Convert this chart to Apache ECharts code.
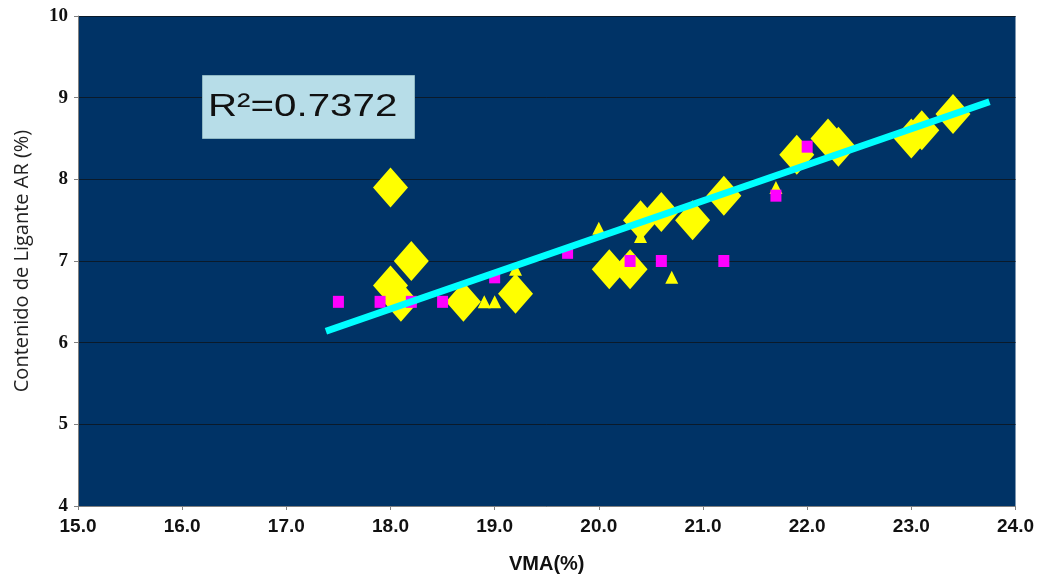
<!DOCTYPE html>
<html>
<head>
<meta charset="utf-8">
<script src="https://cdn.jsdelivr.net/npm/echarts@6/dist/echarts.min.js"></script>
<style>
html,body{margin:0;padding:0;background:#fff;}
#chart{width:1037px;height:579px;}
</style>
</head>
<body>
<div id="chart"></div>
<script>
// Large yellow diamonds
const diamondX = [18.0, 18.0, 18.2, 18.1, 18.7, 19.2, 20.1, 20.3, 20.4, 20.6, 20.9, 21.2, 21.9, 22.2, 22.3, 23.0, 23.1, 23.4];
const diamondY = [7.9, 6.7, 7.0, 6.5, 6.5, 6.6, 6.9, 6.9, 7.5, 7.6, 7.5, 7.8, 8.3, 8.5, 8.4, 8.5, 8.6, 8.8];
// Small yellow triangles
const triX = [18.9, 19.0, 19.2, 20.0, 20.4, 20.7, 21.7];
const triY = [6.5, 6.5, 6.9, 7.4, 7.3, 6.8, 7.9];
// Magenta squares
const sqX = [17.5, 17.9, 18.2, 18.5, 19.0, 19.7, 20.3, 20.6, 21.2, 21.7, 22.0];
const sqY = [6.5, 6.5, 6.5, 6.5, 6.8, 7.1, 7.0, 7.0, 7.0, 7.8, 8.4];
// Linear trend line end points
const trendX = [17.38, 23.75];
const trendY = [6.14, 8.95];
// Axis ticks
const xTicks = [15, 16, 17, 18, 19, 20, 21, 22, 23, 24];
const yTicks = [4, 5, 6, 7, 8, 9, 10];
const r2Text = 'R²=0.7372';

const zip = (xs, ys) => xs.map((x, i) => [x, ys[i]]);

const chart = echarts.init(document.getElementById('chart'));
chart.setOption({
  animation: false,
  backgroundColor: '#ffffff',
  grid: {
    left: 78, right: 15, top: 16, bottom: 72,
    show: true, backgroundColor: '#003366', borderWidth: 0
  },
  xAxis: {
    type: 'value',
    min: xTicks[0], max: xTicks[xTicks.length - 1], interval: 1,
    name: 'VMA(%)',
    nameLocation: 'middle',
    nameGap: 48,
    nameTextStyle: { fontFamily: 'Liberation Sans, Arial', fontWeight: 'bold', fontSize: 20, color: '#111' },
    axisLine: { show: true, lineStyle: { color: '#808080', width: 1 } },
    axisTick: { show: true, length: 4, lineStyle: { color: '#808080' } },
    axisLabel: {
      margin: 11,
      fontFamily: 'Liberation Sans, Arial', fontWeight: 'bold', fontSize: 19, color: '#111',
      formatter: v => v.toFixed(1)
    },
    splitLine: { show: false }
  },
  yAxis: {
    type: 'value',
    min: yTicks[0], max: yTicks[yTicks.length - 1], interval: 1,
    name: 'Contenido de Ligante AR (%)',
    nameLocation: 'middle',
    nameGap: 46,
    nameTextStyle: { fontFamily: 'Open Sans', fontSize: 20, color: '#222' },
    axisLine: { show: true, lineStyle: { color: '#808080', width: 1 } },
    axisTick: { show: true, length: 4, lineStyle: { color: '#808080' } },
    axisLabel: {
      margin: 10,
      fontFamily: 'Liberation Serif, Times New Roman', fontWeight: 'bold', fontSize: 19, color: '#111'
    },
    splitLine: { show: true, lineStyle: { color: '#0a1a2a', width: 1 } }
  },
  series: [
    {
      name: 'diamonds', type: 'scatter', symbol: 'diamond', symbolSize: [35, 40],
      itemStyle: { color: '#ffff00', opacity: 1 },
      data: zip(diamondX, diamondY), z: 2
    },
    {
      name: 'triangles', type: 'scatter', symbol: 'triangle', symbolSize: 13,
      itemStyle: { color: '#ffff00', opacity: 1 },
      data: zip(triX, triY), z: 3
    },
    {
      name: 'squares', type: 'scatter', symbol: 'rect', symbolSize: [11, 12],
      itemStyle: { color: '#ff00ff', opacity: 1 },
      data: zip(sqX, sqY), z: 4
    },
    {
      name: 'trend', type: 'line', symbol: 'none',
      lineStyle: { color: '#00ffff', width: 7 },
      data: zip(trendX, trendY), z: 5
    }
  ],
  graphic: [
    {
      type: 'rect', left: 202, top: 75, z: 10,
      shape: { width: 212, height: 63 },
      style: { fill: '#b7dde8', stroke: '#8fb8c4', lineWidth: 1 }
    },
    {
      type: 'text', x: 208, y: 91, z: 11, scaleX: 1.3, scaleY: 1.03,
      style: { text: r2Text, fontFamily: 'Liberation Sans, Arial', fontSize: 31, fill: '#111' }
    }
  ]
});
</script>
</body>
</html>
